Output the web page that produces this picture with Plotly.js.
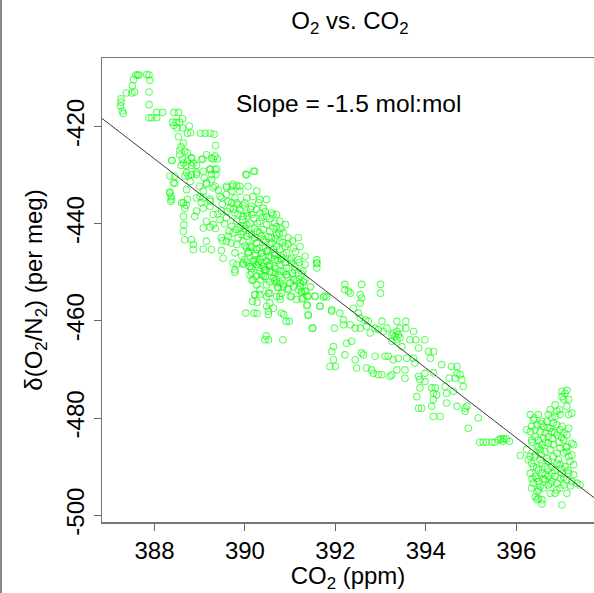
<!DOCTYPE html>
<html>
<head>
<meta charset="utf-8">
<script src="https://cdn.plot.ly/plotly-3.0.1.min.js"></script>
<style>
html,body{margin:0;padding:0;background:#fff;}
#chart{width:594px;height:593px;position:relative;}
#edge{position:absolute;left:0;top:0;width:2px;height:593px;background:#888;}
</style>
</head>
<body>
<div id="chart"></div>
<div id="edge"></div>
<script>
// CO2 (ppm) values of each observation
const co2 = [
387.59,387.63,387.66,387.83,387.88,387.54,387.90,387.51,387.56,387.50,387.38,387.88,387.26,387.26,387.25,387.29,387.31,387.88,388.05,388.18,
387.88,387.94,388.05,388.43,388.53,388.40,388.48,388.56,388.62,388.43,388.50,388.62,388.77,388.80,388.73,388.53,389.02,389.12,389.23,389.32,
389.35,388.64,388.59,388.56,388.73,388.62,388.82,388.39,388.73,388.59,388.70,388.82,388.93,389.07,389.30,389.39,389.23,389.38,389.36,388.71,
388.93,388.34,388.45,388.75,388.79,389.10,389.15,389.27,388.34,388.37,388.36,388.73,388.60,388.70,390.02,390.19,389.01,389.08,389.30,389.41,
389.60,389.72,389.82,389.71,389.89,389.49,389.63,389.23,389.04,389.82,389.96,
388.56,388.67,388.82,388.38,388.64,388.86,389.04,389.15,389.26,389.34,
389.23,389.34,389.26,389.08,388.93,388.82,388.67,388.45,390.04,390.22,
388.42,388.71,389.00,389.15,389.34,389.59,389.74,389.89,390.07,390.26,
388.34,388.38,388.64,388.93,389.08,389.23,389.45,389.59,389.78,390.04,390.18,390.33,390.48,
388.67,388.93,389.08,389.23,389.30,389.48,389.67,389.89,390.04,390.26,390.41,390.59,390.70,
388.64,388.89,389.15,389.30,389.45,389.59,389.82,389.96,390.11,390.33,390.48,390.66,390.77,
388.65,388.64,389.08,389.23,389.48,389.63,389.74,389.96,390.15,390.33,390.55,390.70,390.85,390.96,391.18,
388.67,388.82,388.86,389.15,389.59,389.82,389.96,390.11,390.26,390.41,390.55,390.70,390.89,391.07,391.22,
388.86,389.08,389.26,389.48,389.78,389.93,390.07,390.22,390.37,390.52,390.66,390.85,391.03,391.18,391.33,
389.52,389.82,389.96,390.11,390.26,390.41,390.55,390.77,390.92,391.11,391.33,389.78,390.11,
390.18,390.41,390.63,390.92,391.07,391.22,390.33,390.55,390.74,390.96,391.18,391.33,390.22,390.48,390.77,391.03,391.29,
389.71,389.85,390.00,390.15,390.30,389.78,389.96,390.15,390.33,390.48,389.71,389.89,390.04,390.22,390.41,390.63,
389.85,390.04,390.22,390.41,390.59,390.77,390.04,390.26,390.48,390.63,390.77,390.92,390.00,390.18,390.33,390.48,390.66,390.81,391.03,
390.33,390.55,390.77,390.26,390.48,390.70,390.85,
390.16,390.22,390.33,390.17,390.27,390.52,390.55,390.70,390.78,390.81,391.00,391.14,391.26,391.35,391.40,391.55,391.74,391.81,391.37,391.66,
390.48,390.63,390.02,390.20,390.27,390.52,390.52,390.81,390.86,390.91,390.98,391.40,391.49,390.47,390.44,390.52,390.84,
389.74,389.78,389.96,390.11,390.15,390.30,390.37,390.44,390.55,390.67,390.70,390.78,390.92,391.00,391.11,391.18,391.22,391.33,391.59,391.59,
391.28,391.29,391.26,391.37,391.38,391.55,391.66,391.77,391.40,391.50,391.59,391.59,
392.21,392.21,392.29,392.33,392.58,392.55,392.58,392.55,393.00,393.00,391.92,391.92,392.10,392.40,392.18,392.33,392.18,392.51,392.55,392.44,
392.55,392.66,392.73,392.77,392.69,392.88,392.95,393.03,393.06,393.14,393.36,393.56,393.43,393.56,393.28,393.32,393.36,393.25,393.39,393.73,
393.65,393.78,393.98,393.84,394.06,394.17,394.10,394.35,394.57,394.69,391.98,391.96,391.92,391.96,391.88,392.00,392.25,392.36,392.21,392.44,
392.47,392.62,392.58,392.69,392.80,392.84,392.95,393.03,393.21,393.25,392.88,393.10,393.17,393.28,393.39,393.36,393.54,393.58,393.47,393.54,
393.73,393.76,393.84,393.87,393.98,393.98,393.80,393.87,394.13,394.21,394.17,394.24,394.43,394.46,394.61,394.65,394.69,394.46,394.69,394.13,
393.84,393.91,394.17,394.32,393.25,393.36,393.43,
394.17,394.76,394.80,394.83,394.52,394.17,394.87,394.87,394.91,395.16,394.94,
395.19,395.27,395.35,395.46,395.53,395.61,395.66,395.72,395.78,395.85,395.70,396.09,
397.01,397.12,397.05,397.16,396.86,396.96,397.12,396.75,396.86,396.79,396.97,397.16,396.31,396.49,396.38,396.57,396.68,396.82,396.90,397.01,
397.16,396.23,396.31,396.42,396.53,396.64,396.79,396.90,397.05,397.05,397.23,397.27,397.12,396.97,396.82,396.71,396.57,396.46,396.34,396.42,
396.49,396.60,396.71,396.23,396.31,396.42,396.53,396.68,396.82,396.93,397.05,397.16,397.23,397.27,396.27,396.38,396.49,396.64,396.79,396.97,
397.08,396.31,396.42,396.57,396.71,396.86,397.01,397.16,397.27,396.38,396.49,396.64,396.79,396.90,397.05,397.23,397.34,397.41,396.34,396.46,
396.60,396.75,396.86,397.12,396.42,396.49,396.57,397.01,
396.34,396.46,396.60,396.75,396.97,397.12,396.53,396.64,396.75,396.90,397.12,396.34,396.57,396.71,396.90,397.19,396.46,396.64,396.79,396.97,
397.12,396.53,396.71,396.97,396.46,396.57,397.23,396.90,396.71,397.01,397.08,
389.75,389.85,389.95,390.05,390.12,390.20,390.28,390.38,390.45,390.55,390.62,390.70,390.80,390.90,
389.80,389.92,390.00,390.10,390.18,390.27,390.36,390.45,390.52,390.60,390.68,390.76,390.84,390.95,391.05,391.12,
390.00,390.08,390.15,390.24,390.32,390.40,390.50,390.58,390.66,390.73,390.82,390.90,391.00,391.10,391.20,391.25,
390.05,390.15,390.22,390.30,390.38,390.46,390.52,390.60,390.68,390.76,390.85,390.95,391.05,391.15,
390.25,390.35,390.45,390.55,390.65,390.72,390.85,390.95,391.08,391.25,391.45,391.30,
389.50,389.60,389.40,389.55,389.65,389.35,389.50,389.70,
396.40,396.55,396.70,396.85,397.00,396.35,396.50,396.65,396.80,396.95,397.10,396.40,396.55,396.70,396.85,397.00,397.15,396.45,396.60,396.75,
396.90,397.05,397.20,396.35,396.50
];
// δ(O2/N2) (per meg) values, same order
const o2 = [
-409.4,-409.4,-409.4,-409.3,-409.4,-410.3,-410.5,-411.6,-412.9,-413.1,-413.1,-412.9,-414.3,-415.0,-415.8,-416.8,-417.3,-415.5,-417.1,-417.1,
-418.2,-418.2,-418.2,-417.1,-417.1,-419.1,-419.2,-419.1,-418.4,-419.8,-420.3,-420.3,-419.9,-421.3,-421.4,-422.1,-421.4,-421.4,-421.4,-421.6,
-423.9,-423.4,-424.2,-424.9,-425.4,-426.7,-426.5,-427.0,-427.1,-428.0,-428.0,-428.0,-428.0,-426.7,-426.7,-426.7,-428.7,-428.7,-429.9,-429.5,
-429.5,-430.2,-431.7,-430.2,-431.3,-430.6,-431.9,-430.9,-433.5,-434.4,-435.4,-435.0,-435.7,-436.2,-429.9,-429.2,-434.4,-433.3,-432.6,-433.1,
-432.6,-432.3,-432.2,-433.3,-433.3,-434.7,-435.4,-435.4,-435.7,-435.7,-436.2,
-425.8,-425.1,-426.5,-427.0,-427.5,-427.5,-426.8,-425.8,-426.5,-426.1,
-428.9,-428.9,-429.9,-429.2,-429.9,-429.9,-430.2,-430.2,-429.9,-429.2,
-431.6,-433.0,-432.3,-431.6,-432.3,-432.3,-431.9,-432.3,-432.3,-433.3,
-433.7,-435.0,-435.7,-434.7,-434.7,-435.0,-434.4,-434.0,-434.7,-434.7,-434.4,-435.0,-435.0,
-436.8,-437.4,-436.8,-436.4,-438.1,-437.4,-436.8,-437.1,-437.8,-437.1,-436.8,-437.8,-438.1,
-438.5,-438.5,-439.5,-440.2,-439.2,-438.8,-439.5,-440.5,-439.9,-439.5,-440.2,-439.9,-439.5,
-440.2,-441.6,-440.9,-440.7,-442.9,-442.6,-441.9,-441.6,-442.3,-441.9,-441.6,-442.3,-441.9,-442.9,-442.9,
-443.3,-443.3,-444.3,-443.6,-443.6,-444.3,-443.6,-444.7,-444.0,-445.0,-444.3,-444.7,-444.7,-445.0,-444.7,
-445.3,-445.2,-445.3,-445.5,-446.0,-446.7,-446.0,-446.6,-446.0,-446.7,-446.0,-446.4,-447.1,-447.4,-446.7,
-447.1,-448.4,-448.1,-448.8,-448.4,-448.8,-448.4,-448.4,-449.1,-448.8,-448.4,-450.0,-450.5,
-451.5,-450.8,-451.2,-450.5,-451.5,-452.2,-453.6,-454.3,-453.2,-453.6,-453.6,-453.9,-454.6,-455.0,-455.0,-455.0,-455.3,
-435.7,-436.1,-435.7,-436.4,-435.7,-437.8,-438.5,-438.1,-437.8,-438.5,-440.5,-440.9,-440.2,-440.9,-441.2,-440.9,
-442.9,-442.6,-442.9,-443.3,-442.9,-443.6,-445.0,-445.3,-445.7,-445.3,-445.3,-446.0,-447.4,-447.7,-447.4,-447.7,-447.4,-447.4,-448.1,
-449.8,-449.8,-449.8,-452.6,-452.6,-452.2,-452.9,
-451.7,-454.6,-454.6,-456.0,-456.2,-454.3,-456.3,-455.0,-455.6,-454.3,-455.0,-455.6,-455.5,-453.9,-455.0,-455.0,-455.1,-455.1,-456.9,-457.0,
-457.0,-457.4,-458.4,-458.4,-458.5,-458.0,-458.7,-458.4,-458.7,-460.1,-460.1,-458.9,-461.5,-463.1,-463.9,-463.9,-463.9,
-448.1,-449.5,-448.4,-448.8,-450.1,-448.1,-450.5,-449.5,-448.8,-450.1,-451.5,-452.2,-450.5,-452.2,-451.5,-450.1,-452.9,-451.5,-448.1,-449.1,
-449.8,-451.9,-453.9,-454.9,-456.7,-454.9,-457.0,-454.9,-458.7,-461.5,-448.2,-447.4,
-452.5,-453.6,-453.9,-454.3,-452.5,-454.6,-455.3,-456.3,-452.5,-454.3,-457.7,-458.0,-458.4,-457.4,-459.8,-460.8,-460.8,-458.4,-459.4,-461.5,
-461.5,-459.8,-460.1,-462.5,-461.1,-461.5,-461.8,-460.1,-462.2,-461.5,-460.1,-460.1,-461.5,-461.5,-462.5,-463.2,-463.9,-464.2,-462.9,-462.2,
-463.9,-463.9,-463.9,-465.6,-466.3,-466.3,-467.7,-469.0,-469.4,-469.4,-461.5,-465.3,-466.3,-468.0,-469.4,-469.4,-464.6,-464.2,-467.0,-468.0,
-469.7,-467.0,-466.6,-469.7,-470.1,-470.8,-471.1,-471.1,-471.4,-471.1,-467.3,-467.3,-467.3,-468.0,-467.7,-470.1,-470.1,-467.7,-465.3,-471.8,
-467.7,-468.7,-471.4,-472.1,-470.8,-472.5,-475.6,-473.8,-473.8,-473.8,-474.9,-475.2,-473.5,-474.9,-474.5,-471.8,-470.8,-476.9,-477.6,-477.6,
-478.0,-478.0,-479.7,-479.7,-462.9,-462.2,-463.5,
-470.7,-471.1,-472.1,-473.5,-471.8,-476.2,-478.0,-478.6,-477.6,-480.0,-482.1,
-485.0,-485.0,-485.0,-485.0,-485.0,-484.5,-484.3,-484.3,-484.3,-484.8,-484.8,-487.7,
-474.5,-474.3,-476.2,-476.2,-477.3,-478.3,-477.6,-478.3,-479.7,-480.0,-479.3,-479.3,-479.3,-479.3,-480.4,-480.7,-480.7,-481.0,-481.4,-481.7,
-482.1,-482.4,-482.8,-482.4,-482.8,-483.1,-482.8,-483.5,-483.1,-484.5,-485.2,-485.5,-485.9,-486.2,-485.5,-485.2,-485.5,-485.9,-484.5,-483.9,
-484.5,-484.1,-483.8,-486.5,-487.9,-487.6,-488.6,-488.3,-487.9,-488.6,-487.2,-487.9,-487.6,-489.6,-488.6,-490.0,-490.7,-490.0,-490.0,-489.6,
-490.0,-491.4,-492.0,-491.4,-492.0,-492.0,-491.4,-491.4,-491.7,-493.4,-493.1,-492.7,-493.1,-493.4,-493.8,-493.1,-493.4,-493.8,-494.4,-495.1,
-494.4,-495.5,-495.5,-495.5,-496.2,-496.5,-497.7,-497.9,
-481.7,-481.4,-481.7,-482.1,-482.4,-483.5,-486.5,-486.9,-486.5,-487.2,-486.9,-489.3,-489.3,-488.9,-489.3,-488.9,-492.4,-491.7,-491.4,-492.4,
-492.7,-494.1,-493.8,-494.4,-496.8,-496.8,-479.0,-478.6,-479.3,-475.6,-474.9,
-437.0,-438.0,-439.2,-438.4,-437.0,-438.9,-440.0,-438.7,-437.5,-439.0,-438.2,-440.6,-441.0,-440.2,
-441.2,-442.2,-441.0,-442.0,-443.2,-441.6,-442.5,-443.8,-442.7,-444.0,-443.1,-442.0,-443.9,-444.2,-443.5,-445.8,
-444.5,-445.8,-444.9,-446.2,-445.0,-446.8,-445.5,-447.0,-446.5,-447.6,-446.9,-448.0,-447.5,-449.5,-448.0,-450.3,
-447.9,-449.2,-447.5,-449.0,-448.0,-449.5,-448.6,-450.0,-449.2,-450.6,-449.8,-451.0,-450.2,-451.8,
-450.8,-451.5,-450.9,-452.0,-451.8,-453.0,-452.4,-453.3,-453.0,-454.2,-453.0,-452.0,
-436.0,-437.5,-438.0,-440.0,-441.5,-441.0,-443.5,-444.0,
-480.0,-481.2,-482.0,-483.0,-484.0,-485.0,-486.0,-485.0,-484.2,-485.0,-486.0,-488.0,-487.5,-490.5,-490.8,-490.5,-490.8,-490.3,-492.5,-493.5,
-494.8,-492.2,-494.0,-492.5,-494.8
];
// fitted line end points (slope = -1.5 mol:mol)
const fitCo2 = [386.5, 398.0];
const fitO2 = [-415.9, -498.4];
const xTicks = [388, 390, 392, 394, 396];
const yTicks = [-420, -440, -460, -480, -500];

const FONT = 'Liberation Sans, Arial, Helvetica, sans-serif';
const traces = [
  {x: co2, y: o2, type: 'scatter', mode: 'markers',
   marker: {symbol: 'circle-open', size: 6.5, color: 'rgba(0,255,0,0.62)', line: {width: 1.1}},
   hoverinfo: 'skip'},
  {x: fitCo2, y: fitO2, type: 'scatter', mode: 'lines',
   line: {color: '#3a3a3a', width: 1}, hoverinfo: 'skip'}
];
const layout = {
  width: 594, height: 593,
  margin: {l: 102, r: 0, t: 58, b: 71},
  paper_bgcolor: '#fff', plot_bgcolor: '#fff',
  showlegend: false,
  font: {family: FONT, size: 24, color: '#000'},
  title: {text: 'O<sub>2</sub> vs. CO<sub>2</sub>', font: {family: FONT, size: 24, color: '#000'},
          xref: 'paper', x: 0.504, xanchor: 'center', yref: 'container', y: 0.966, yanchor: 'middle'},
  xaxis: {range: [386.84, 397.72], tickvals: xTicks, ticktext: xTicks.map(String),
          ticks: 'outside', ticklen: 7, tickwidth: 1, tickcolor: '#666',
          showline: true, linecolor: '#777', linewidth: 1.5, mirror: true,
          showgrid: false, zeroline: false, tickfont: {family: FONT, size: 24, color: '#000'},
          title: {text: 'CO<sub>2</sub> (ppm)', font: {family: FONT, size: 24, color: '#000'}, standoff: 8},
          automargin: false},
  yaxis: {range: [-501.4, -405.9], tickvals: yTicks, ticktext: yTicks.map(String), tickangle: -90,
          ticks: 'outside', ticklen: 7, tickwidth: 1, tickcolor: '#666',
          showline: true, linecolor: '#777', linewidth: 1.5,
          showgrid: false, zeroline: false, tickfont: {family: FONT, size: 24, color: '#000'},
          title: {text: 'δ(O<sub>2</sub>/N<sub>2</sub>) (per meg)', font: {family: FONT, size: 24, color: '#000'}, standoff: 12},
          automargin: false},
  annotations: [{text: 'Slope = -1.5 mol:mol', xref: 'paper', yref: 'paper', x: 0.268, y: 0.903,
                 xanchor: 'left', yanchor: 'middle', showarrow: false,
                 font: {family: FONT, size: 24.5, color: '#000'}}]
};
Plotly.newPlot('chart', traces, layout, {staticPlot: true, displayModeBar: false});
</script>
</body>
</html>
